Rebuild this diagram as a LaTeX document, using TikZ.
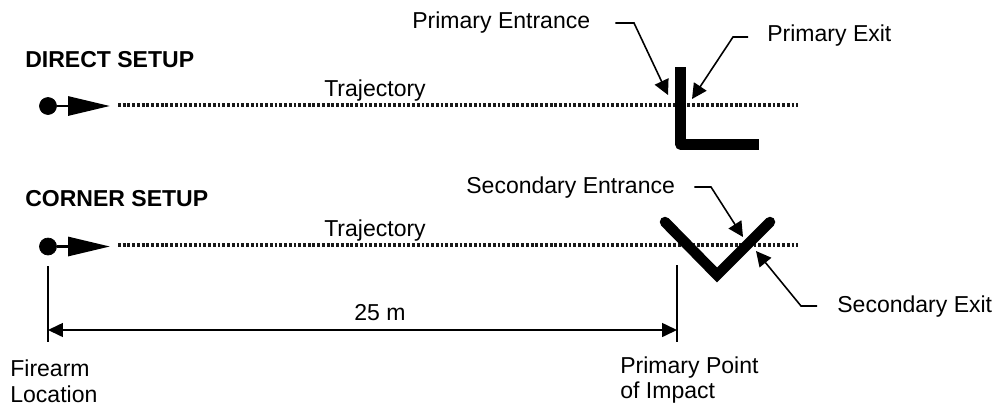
\documentclass[tikz,border=0pt]{standalone}
\usepackage{fontspec}
\setmainfont{Liberation Sans}
\usetikzlibrary{positioning}
\usetikzlibrary{arrows.meta}

\begin{document}
\begin{tikzpicture}[
    x = 0.02cm, y = -0.02cm,
    every node/.style = {font = \fontsize{13.1}{14.7}\selectfont, inner sep = 0pt},
    label/.style = {anchor = west, align = left},
    heading/.style = {anchor = west, font = \fontsize{13.1}{14.7}\selectfont\bfseries},
    path/.style = {line width = 1.8pt, dash pattern = on 1.6pt off 1.1pt, black!90},
    leader/.style = {line width = 0.9pt, -{Triangle[length = 0.3cm, width = 0.3cm]}},
    tick/.style = {line width = 0.9pt},
    dimen/.style = {line width = 0.9pt, {Triangle[length = 0.3cm, width = 0.28cm]}-{Triangle[length = 0.3cm, width = 0.28cm]}},
    bullet/.style = {circle, fill, draw, minimum width = 0.34cm},
    shot/.style = {line width = 1.7pt, -{Triangle[length = 0.84cm, width = 0.38cm]}},
    plate/.style = {line width = 0.21cm}
    ]
    \useasboundingbox (0,0) rectangle (996,406);

    % headings
    \node[heading] (direct) at (25,60) {DIRECT SETUP};
    \node[heading] (corner) at (25,199) {CORNER SETUP};

    % direct setup
    \node[bullet] (gunA) at (48,106) {};
    \coordinate (tipA) at (110,106);
    \draw[shot] (gunA) -- (tipA);
    \coordinate (startA) at (118,105);
    \coordinate (endA) at (798,105);
    \draw[path] (startA) -- (endA);
    \node (trajA) at (375,91) {Trajectory};
    \draw[plate, line join = round] (680.7,67) -- (680.7,144.7) -- (759,144.7);

    % corner setup
    \node[bullet] (gunB) at (48,246.5) {};
    \coordinate (tipB) at (110,246.5);
    \draw[shot] (gunB) -- (tipB);
    \coordinate (startB) at (118,245);
    \coordinate (endB) at (798,245);
    \draw[path] (startB) -- (endB);
    \node (trajB) at (375,231) {Trajectory};
    \draw[plate, line cap = round] (665,222) -- (717,275) -- (770,222);

    % labels with leaders
    \node[label] (entranceA) at (412,23) {Primary Entrance};
    \node[label] (exitA) at (767,36) {Primary Exit};
    \node[label] (entranceB) at (466,188) {Secondary Entrance};
    \node[label] (exitB) at (837,307) {Secondary Exit};
    \coordinate (hitA) at (668,95);
    \coordinate (hitB) at (692,99);
    \coordinate (hitC) at (743,237);
    \coordinate (hitD) at (756,251);
    \coordinate (bendA) at (634,23);
    \coordinate (bendB) at (733,37);
    \coordinate (bendC) at (711,187);
    \coordinate (bendD) at (801,306);
    \draw[leader] ([xshift = 0.5cm]entranceA.east |- bendA) -- (bendA) -- (hitA);
    \draw[leader] ([xshift = -0.38cm]exitA.west |- bendB) -- (bendB) -- (hitB);
    \draw[leader] ([xshift = 0.38cm]entranceB.east |- bendC) -- (bendC) -- (hitC);
    \draw[leader] ([xshift = -0.4cm]exitB.west |- bendD) -- (bendD) -- (hitD);

    % range
    \coordinate (topL) at (48,266);
    \coordinate (botL) at (48,342);
    \coordinate (topR) at (677,265);
    \coordinate (botR) at (677,342);
    \draw[tick] (topL) -- (botL);
    \draw[tick] (topR) -- (botR);
    \coordinate (dimL) at (48,330);
    \coordinate (dimR) at (677,330);
    \draw[dimen] (dimL) -- (dimR);
    \node (range) at (380,313) {25 m};

    \node[label] (firearm) at (10,381.5) {Firearm\\Location};
    \node[label] (impact) at (620,380) {Primary Point\\of Impact};
\end{tikzpicture}
\end{document}
